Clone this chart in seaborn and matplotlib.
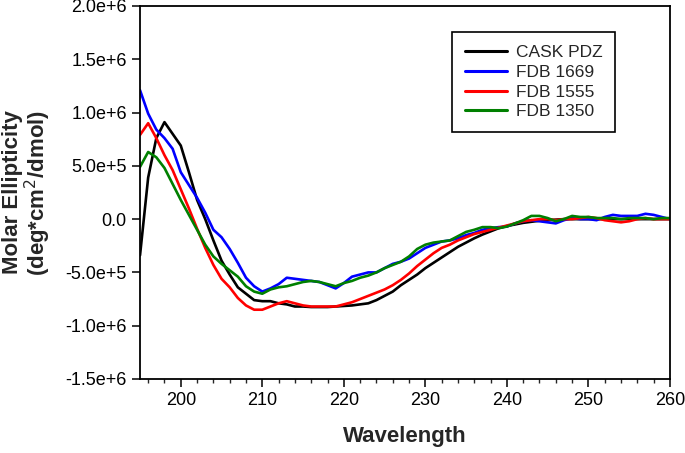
import matplotlib
matplotlib.use("Agg")
import matplotlib.pyplot as plt
from matplotlib.ticker import MultipleLocator, FuncFormatter
import seaborn as sns
import numpy as np
import pandas as pd

wavelength = list(range(195, 261))

cask_pdz = [-3.4e5, 3.9e5, 7.6e5, 9.1e5, 8.0e5, 6.9e5, 4.4e5, 1.8e5, 0.0, -2.0e5,
            -3.9e5, -5.2e5, -6.4e5, -7.0e5, -7.6e5, -7.7e5, -7.7e5, -7.9e5, -8.0e5, -8.2e5,
            -8.2e5, -8.25e5, -8.25e5, -8.25e5, -8.2e5, -8.15e5, -8.1e5, -8.0e5, -7.9e5, -7.6e5,
            -7.2e5, -6.8e5, -6.2e5, -5.7e5, -5.2e5, -4.6e5, -4.1e5, -3.6e5, -3.1e5, -2.6e5,
            -2.2e5, -1.8e5, -1.45e5, -1.15e5, -0.85e5, -0.65e5, -0.5e5, -0.35e5, -0.25e5, -0.15e5,
            -0.1e5, -0.05e5, 0.0, 0.0, 0.0, 0.0, 0.0, 0.0, 0.0, 0.0,
            0.0, 0.0, 0.0, 0.0, 0.0, 0.0]

fdb_1669 = [1.21e6, 0.99e6, 0.84e6, 0.76e6, 0.66e6, 0.44e6, 0.32e6, 0.2e6, 0.06e6, -0.1e6,
            -0.17e6, -0.28e6, -0.41e6, -0.55e6, -0.63e6, -0.68e6, -0.65e6, -0.61e6, -0.55e6, -0.56e6,
            -0.57e6, -0.58e6, -0.59e6, -0.62e6, -0.65e6, -0.6e6, -0.54e6, -0.52e6, -0.5e6, -0.5e6,
            -0.46e6, -0.42e6, -0.4e6, -0.37e6, -0.32e6, -0.27e6, -0.24e6, -0.21e6, -0.2e6, -0.18e6,
            -0.15e6, -0.13e6, -0.1e6, -0.085e6, -0.075e6, -0.07e6, -0.04e6, -0.02e6, -0.01e6, -0.02e6,
            -0.03e6, -0.04e6, -0.01e6, 0.01e6, 0.0, 0.0, -0.01e6, 0.02e6, 0.04e6, 0.03e6,
            0.03e6, 0.03e6, 0.05e6, 0.04e6, 0.02e6, 0.0]

fdb_1555 = [0.79e6, 0.9e6, 0.76e6, 0.6e6, 0.46e6, 0.28e6, 0.1e6, -0.09e6, -0.27e6, -0.43e6,
            -0.56e6, -0.64e6, -0.74e6, -0.81e6, -0.85e6, -0.85e6, -0.82e6, -0.79e6, -0.77e6, -0.79e6,
            -0.81e6, -0.82e6, -0.82e6, -0.82e6, -0.82e6, -0.8e6, -0.78e6, -0.75e6, -0.72e6, -0.69e6,
            -0.66e6, -0.62e6, -0.57e6, -0.51e6, -0.44e6, -0.38e6, -0.32e6, -0.27e6, -0.24e6, -0.2e6,
            -0.17e6, -0.14e6, -0.12e6, -0.1e6, -0.08e6, -0.06e6, -0.04e6, -0.02e6, -0.01e6, 0.0,
            0.0, -0.01e6, 0.0, 0.0, 0.01e6, 0.02e6, 0.01e6, -0.01e6, -0.02e6, -0.03e6,
            -0.02e6, 0.0, 0.01e6, 0.0, 0.0, 0.0]

fdb_1350 = [0.49e6, 0.63e6, 0.58e6, 0.48e6, 0.33e6, 0.18e6, 0.04e6, -0.1e6, -0.24e6, -0.35e6,
            -0.42e6, -0.48e6, -0.54e6, -0.63e6, -0.68e6, -0.7e6, -0.66e6, -0.64e6, -0.63e6, -0.61e6,
            -0.59e6, -0.58e6, -0.59e6, -0.61e6, -0.63e6, -0.6e6, -0.58e6, -0.55e6, -0.53e6, -0.5e6,
            -0.46e6, -0.43e6, -0.4e6, -0.35e6, -0.28e6, -0.24e6, -0.22e6, -0.21e6, -0.2e6, -0.16e6,
            -0.12e6, -0.1e6, -0.075e6, -0.075e6, -0.085e6, -0.07e6, -0.04e6, -0.01e6, 0.03e6, 0.03e6,
            0.01e6, -0.02e6, 0.0, 0.03e6, 0.02e6, 0.02e6, 0.01e6, 0.01e6, 0.01e6, 0.0,
            0.01e6, 0.01e6, 0.01e6, 0.0, 0.01e6, 0.01e6]

labels = ["CASK PDZ", "FDB 1669", "FDB 1555", "FDB 1350"]
colors = ["black", "blue", "red", "green"]

# long form table for seaborn
frames = []
for name, vals in zip(labels, [cask_pdz, fdb_1669, fdb_1555, fdb_1350]):
    frames.append(pd.DataFrame({"Wavelength": wavelength, "Ellipticity": vals, "Sample": name}))
df = pd.concat(frames, ignore_index=True)

sns.set_style("ticks")
plt.rcParams['font.family'] = ['Liberation Sans', 'DejaVu Sans']

fig = plt.figure(figsize=(6.85, 4.53), dpi=100)
ax = fig.add_axes([0.2044, 0.1634, 0.7736, 0.8234])

sns.lineplot(data=df, x="Wavelength", y="Ellipticity", hue="Sample", hue_order=labels,
             palette=dict(zip(labels, colors)), linewidth=1.9, ax=ax)

ax.set_xlim(195, 260)
ax.set_ylim(-1.5e6, 2.0e6)
ax.xaxis.set_major_locator(MultipleLocator(10))
ax.xaxis.set_minor_locator(MultipleLocator(2))
ax.yaxis.set_major_locator(MultipleLocator(5e5))


def yfmt(v, pos):
    if abs(v) < 1:
        return "0.0"
    e = int(np.floor(np.log10(abs(v))))
    return f"{v / 10**e:.1f}e+{e}"


ax.yaxis.set_major_formatter(FuncFormatter(yfmt))
ax.tick_params(axis='both', which='major', direction='out', length=6, width=1.1,
               labelsize=13, colors='black')
ax.tick_params(axis='x', which='minor', direction='out', length=3, width=1.0)
for s in ax.spines.values():
    s.set_visible(True)
    s.set_linewidth(1.3)
    s.set_color('black')

ax.set_xlabel("Wavelength", fontsize=16, fontweight='bold', labelpad=12)
ax.set_ylabel("Molar Ellipticity\n(deg*cm$^2$/dmol)", fontsize=16, fontweight='bold',
              labelpad=9, linespacing=1.0)

leg = ax.legend(loc='upper left', bbox_to_anchor=(0.589, 0.93), fontsize=12.5,
                handlelength=2.4, handletextpad=0.5, labelspacing=0.26, borderpad=0.75,
                fancybox=False, framealpha=1, edgecolor='black', borderaxespad=0)
leg.get_frame().set_linewidth(1.2)
for h in leg.get_lines():
    h.set_linewidth(2.2)

fig.savefig("out.png", dpi=100)
